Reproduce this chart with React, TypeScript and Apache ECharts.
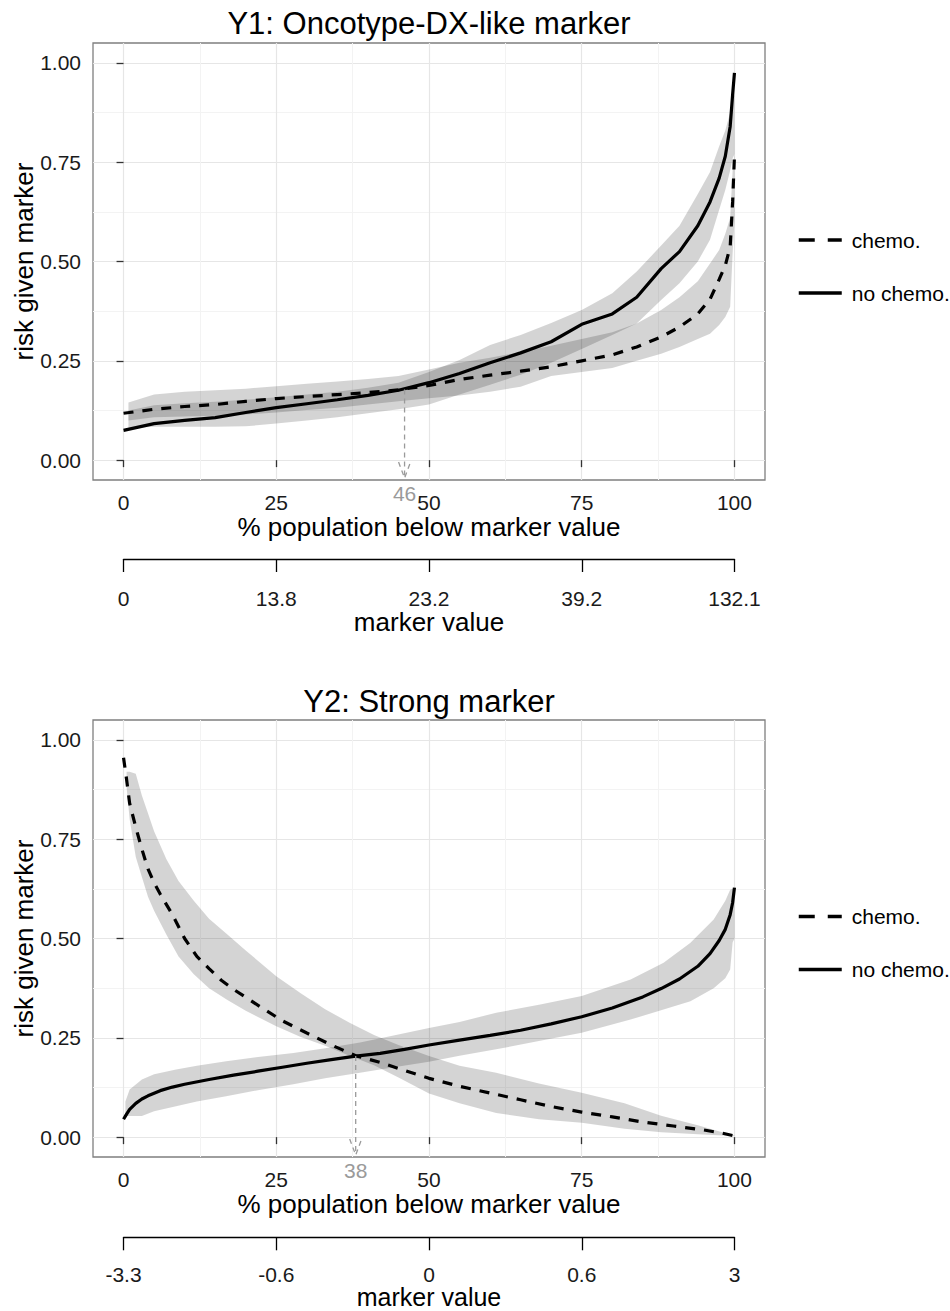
import React, { useEffect, useRef } from "react";
import * as echarts from "echarts";

const FONT = '"Liberation Sans", Arial, Helvetica, sans-serif';
const TXT = "#1a1a1a";
const GRID_MAJOR = "#e6e6e6";
const GRID_MINOR = "#f3f3f3";
const BAND_FILL = "rgba(0,0,0,0.17)";
const ARROW = "#9a9a9a";

// ---------- shared ticks / labels ----------
const pctTicks = [0, 25, 50, 75, 100];
const pctMinor = [12.5, 37.5, 62.5, 87.5];
const riskTicks = [0, 0.25, 0.5, 0.75, 1];
const riskMinor = [0.125, 0.375, 0.625, 0.875];
const seriesNames = ["chemo.", "no chemo."];
const xAxisTitle = "% population below marker value";
const yAxisTitle = "risk given marker";
const markerAxisTitle = "marker value";
const arrowTipY = -0.045;

// ---------- Panel 1: Y1 ----------
const p1Title = "Y1: Oncotype-DX-like marker";
const p1MarkerLabels = ["0", "13.8", "23.2", "39.2", "132.1"];
const p1LineX = [0, 5, 10, 15, 20, 25, 30, 35, 40, 45, 50, 55, 60, 65, 70, 75, 80, 84, 88, 91, 94, 96, 97.5, 98.5, 99.3, 99.7, 100];
const p1NoChemoY = [0.075, 0.092, 0.1, 0.107, 0.12, 0.132, 0.142, 0.152, 0.163, 0.176, 0.195, 0.218, 0.245, 0.27, 0.298, 0.342, 0.368, 0.41, 0.482, 0.525, 0.59, 0.65, 0.71, 0.765, 0.84, 0.92, 0.975];
const p1ChemoY = [0.118, 0.128, 0.135, 0.14, 0.148, 0.155, 0.16, 0.165, 0.17, 0.177, 0.188, 0.203, 0.214, 0.224, 0.235, 0.25, 0.265, 0.285, 0.31, 0.335, 0.368, 0.405, 0.455, 0.49, 0.537, 0.65, 0.765];
const p1BandX = [0.8, 5, 10, 15, 20, 25, 30, 35, 40, 45, 50, 55, 60, 65, 70, 75, 80, 84, 88, 91, 94, 96, 97.5, 98.5, 99.3, 99.7, 100];
const p1NoChemoLo = [0.08, 0.084, 0.084, 0.084, 0.085, 0.092, 0.1, 0.108, 0.118, 0.128, 0.14, 0.165, 0.19, 0.215, 0.245, 0.28, 0.315, 0.344, 0.403, 0.445, 0.5, 0.555, 0.63, 0.68, 0.73, 0.76, 0.77];
const p1NoChemoHi = [0.125, 0.138, 0.143, 0.147, 0.152, 0.158, 0.165, 0.172, 0.182, 0.195, 0.222, 0.252, 0.29, 0.315, 0.345, 0.378, 0.42, 0.475, 0.54, 0.59, 0.67, 0.725, 0.79, 0.83, 0.875, 0.9, 0.92];
const p1ChemoLo = [0.1, 0.108, 0.11, 0.112, 0.115, 0.12, 0.126, 0.132, 0.14, 0.148, 0.156, 0.163, 0.172, 0.185, 0.212, 0.222, 0.232, 0.25, 0.268, 0.285, 0.305, 0.318, 0.34, 0.36, 0.386, 0.52, 0.6];
const p1ChemoHi = [0.145, 0.165, 0.172, 0.176, 0.18, 0.186, 0.192, 0.198, 0.204, 0.212, 0.228, 0.245, 0.258, 0.272, 0.288, 0.305, 0.322, 0.344, 0.378, 0.41, 0.45, 0.495, 0.529, 0.57, 0.61, 0.73, 0.77];
const p1CrossX = 46;
const p1CrossY = 0.178;

// ---------- Panel 2: Y2 ----------
const p2Title = "Y2: Strong marker";
const p2MarkerLabels = ["-3.3", "-0.6", "0", "0.6", "3"];
const p2ChemoX = [0, 0.5, 1, 2, 3, 4, 5, 6, 8, 10, 12, 14, 16, 18, 20, 23, 26, 30, 34, 38, 42, 46, 50, 55, 60, 65, 70, 75, 80, 85, 90, 95, 98, 100];
const p2ChemoY = [0.955, 0.9, 0.84, 0.78, 0.725, 0.675, 0.64, 0.612, 0.56, 0.5, 0.455, 0.424, 0.395, 0.372, 0.352, 0.322, 0.293, 0.262, 0.232, 0.205, 0.188, 0.168, 0.148, 0.128, 0.111, 0.094, 0.077, 0.063, 0.051, 0.038, 0.028, 0.018, 0.01, 0.003];
const p2NoChemoX = [0, 0.5, 1, 2, 3, 4, 6, 8, 10, 14, 18, 22, 26, 30, 34, 38, 42, 46, 50, 55, 60, 65, 70, 75, 80, 85, 88, 91, 94, 96, 97.5, 98.5, 99.3, 99.7, 100];
const p2NoChemoY = [0.045, 0.058, 0.07, 0.085, 0.096, 0.104, 0.117, 0.126, 0.133, 0.145, 0.156, 0.166, 0.176, 0.186, 0.195, 0.204, 0.211, 0.221, 0.232, 0.244, 0.256, 0.269, 0.285, 0.303, 0.325, 0.353, 0.374, 0.398, 0.43, 0.462, 0.495, 0.523, 0.56, 0.59, 0.628];
const p2ChemoBandX = [0.5, 1, 2, 3, 4, 5, 7, 9, 11.5, 14, 17, 20, 25, 29, 33, 37, 41, 45, 50, 55, 61, 68, 75, 82, 88, 94, 98, 100];
const p2ChemoLo = [0.88, 0.8, 0.705, 0.655, 0.605, 0.57, 0.51, 0.455, 0.41, 0.375, 0.345, 0.318, 0.279, 0.252, 0.23, 0.205, 0.181, 0.15, 0.11, 0.085, 0.061, 0.045, 0.036, 0.021, 0.012, 0.007, 0.004, 0.003];
const p2ChemoHi = [0.92, 0.92, 0.915, 0.86, 0.815, 0.77, 0.7, 0.645, 0.595, 0.55, 0.51, 0.47, 0.405, 0.362, 0.322, 0.288, 0.257, 0.232, 0.204, 0.18, 0.162, 0.135, 0.112, 0.085, 0.054, 0.03, 0.012, 0.004];
const p2NoChemoBandX = [0.3, 1, 3, 5, 8.6, 12, 16.8, 22, 27.8, 33, 38.7, 44, 50, 55, 61, 68, 75, 83, 88.4, 92.8, 96.6, 98.5, 99.3, 99.7, 100];
const p2NoChemoLo = [0.053, 0.053, 0.053, 0.065, 0.078, 0.09, 0.103, 0.118, 0.133, 0.148, 0.162, 0.175, 0.19, 0.205, 0.221, 0.242, 0.263, 0.296, 0.321, 0.342, 0.375, 0.4, 0.422, 0.49, 0.5];
const p2NoChemoHi = [0.09, 0.12, 0.145, 0.158, 0.17, 0.18, 0.191, 0.202, 0.212, 0.224, 0.238, 0.255, 0.275, 0.29, 0.313, 0.333, 0.355, 0.397, 0.439, 0.489, 0.548, 0.595, 0.623, 0.625, 0.625];
const p2CrossX = 38;
const p2CrossY = 0.204;

// ---------- helpers ----------
const zip = (xs: number[], ys: number[]) => xs.map((x, i) => [x, ys[i]]);

function bandSeries(xs: number[], lo: number[], hi: number[], xi: number, yi: number) {
  return {
    type: "custom",
    xAxisIndex: xi,
    yAxisIndex: yi,
    z: 1,
    silent: true,
    clip: true,
    data: xs.map((x, i) => [x, lo[i], hi[i]]),
    encode: { x: 0, y: [1, 2] },
    renderItem: (params: any, api: any) => {
      if (params.dataIndex !== 0) return null;
      const pts: number[][] = [];
      for (let i = 0; i < xs.length; i++) pts.push(api.coord([xs[i], hi[i]]));
      for (let i = xs.length - 1; i >= 0; i--) pts.push(api.coord([xs[i], lo[i]]));
      return { type: "polygon", shape: { points: pts }, style: { fill: BAND_FILL } };
    },
  };
}

function lineSeries(name: string, xs: number[], ys: number[], xi: number, yi: number, dashed: boolean) {
  return {
    type: "line",
    name,
    xAxisIndex: xi,
    yAxisIndex: yi,
    data: zip(xs, ys),
    symbol: "none",
    showSymbol: false,
    silent: true,
    clip: true,
    z: 3,
    itemStyle: { color: "#000" },
    lineStyle: { color: "#000", width: 3.2, type: dashed ? [10, 9] : "solid" },
  };
}

function arrowSeries(cx: number, cy: number, xi: number, yi: number) {
  return {
    type: "custom",
    xAxisIndex: xi,
    yAxisIndex: yi,
    z: 4,
    silent: true,
    clip: false,
    data: [[cx, cy, arrowTipY]],
    renderItem: (params: any, api: any) => {
      const x = api.value(0);
      const top = api.coord([x, api.value(1)]);
      const tip = api.coord([x, api.value(2)]);
      const st = { stroke: ARROW, lineWidth: 1.3, lineDash: [5, 4], fill: null };
      return {
        type: "group",
        children: [
          { type: "line", shape: { x1: top[0], y1: top[1], x2: tip[0], y2: tip[1] }, style: st },
          {
            type: "polyline",
            shape: { points: [[tip[0] - 6, tip[1] - 16], [tip[0], tip[1]], [tip[0] + 6, tip[1] - 16]] },
            style: st,
          },
          {
            type: "text",
            x: tip[0],
            y: tip[1] + 15,
            style: { text: String(x), fill: ARROW, fontSize: 21, fontFamily: FONT, align: "center", verticalAlign: "middle" },
          },
        ],
      };
    },
  };
}

const nameStyle = { fontSize: 26, color: "#000", fontFamily: FONT };
const labelStyle = { fontSize: 21, color: TXT, fontFamily: FONT };

function mainXAxis(g: number) {
  return {
    type: "value", gridIndex: g, min: -5, max: 105,
    axisLine: { show: false },
    axisTick: { show: true, customValues: pctTicks, length: 7, lineStyle: { color: "#333", width: 1.3 } },
    axisLabel: { show: true, customValues: pctTicks, margin: 12, ...labelStyle },
    splitLine: { show: true, lineStyle: { color: GRID_MAJOR, width: 1.2 } },
    name: xAxisTitle, nameLocation: "middle", nameGap: 34, nameTextStyle: nameStyle, nameMoveOverlap: false,
  };
}
function minorXAxis(g: number) {
  return {
    type: "value", gridIndex: g, min: -5, max: 105,
    axisLine: { show: false },
    axisTick: { show: false, customValues: pctMinor },
    axisLabel: { show: false, customValues: pctMinor },
    splitLine: { show: true, lineStyle: { color: GRID_MINOR, width: 1 } },
  };
}
function markerXAxis(g: number, labels: string[], labelMargin: number, nameGap: number, nameSize: number) {
  return {
    type: "value", gridIndex: g, min: 0, max: 100, interval: 25,
    axisLine: { show: true, onZero: false, lineStyle: { color: "#000", width: 1.3 } },
    axisTick: { show: true, length: 13, lineStyle: { color: "#000", width: 1.3 } },
    axisLabel: { show: true, margin: labelMargin, ...labelStyle, lineHeight: 16, showMinLabel: true, showMaxLabel: true, formatter: (v: number) => labels[Math.round(v / 25)] },
    splitLine: { show: false },
    name: markerAxisTitle, nameLocation: "middle", nameGap, nameTextStyle: { ...nameStyle, fontSize: nameSize, lineHeight: 20 }, nameMoveOverlap: false,
  };
}
function mainYAxis(g: number) {
  return {
    type: "value", gridIndex: g, min: -0.05, max: 1.05,
    axisLine: { show: false },
    axisTick: { show: true, customValues: riskTicks, length: 7, lineStyle: { color: "#333", width: 1.3 } },
    axisLabel: { show: true, customValues: riskTicks, margin: 12, ...labelStyle, formatter: (v: number) => v.toFixed(2) },
    splitLine: { show: true, lineStyle: { color: GRID_MAJOR, width: 1.2 } },
    name: yAxisTitle, nameLocation: "middle", nameGap: 56, nameTextStyle: nameStyle, nameMoveOverlap: false,
  };
}
function minorYAxis(g: number) {
  return {
    type: "value", gridIndex: g, min: -0.05, max: 1.05,
    axisLine: { show: false },
    axisTick: { show: false, customValues: riskMinor },
    axisLabel: { show: false, customValues: riskMinor },
    splitLine: { show: true, lineStyle: { color: GRID_MINOR, width: 1 } },
  };
}
function hiddenYAxis(g: number) {
  return { type: "value", gridIndex: g, min: 0, max: 1, show: false };
}

function legendFor(top: number) {
  return {
    orient: "vertical", left: 797, top, padding: 0,
    itemWidth: 43, itemHeight: 14, itemGap: 32,
    selectedMode: false,
    itemStyle: { opacity: 0 },
    textStyle: { fontSize: 21, color: "#000", fontFamily: FONT, padding: [0, 0, 0, 5] },
    data: [
      { name: seriesNames[0], lineStyle: { type: [16, 13], width: 3.5 } },
      { name: seriesNames[1], lineStyle: { width: 3.5 } },
    ],
  };
}

function buildOption() {
  const gridBase = { left: 93, width: 672, height: 437, show: true, borderColor: "#7f7f7f", borderWidth: 1.3, backgroundColor: "#fff", containLabel: false, outerBoundsMode: "none" };
  return {
    animation: false,
    backgroundColor: "#fff",
    textStyle: { fontFamily: FONT },
    title: [
      { text: p1Title, left: 429, top: 23.5, textAlign: "center", textVerticalAlign: "middle", padding: 0, textStyle: { fontSize: 31, fontWeight: "normal", color: "#000", fontFamily: FONT } },
      { text: p2Title, left: 429, top: 701.5, textAlign: "center", textVerticalAlign: "middle", padding: 0, textStyle: { fontSize: 31, fontWeight: "normal", color: "#000", fontFamily: FONT } },
    ],
    legend: [legendFor(229.5), legendFor(906)],
    grid: [
      { ...gridBase, top: 43 },
      { left: 123.5, width: 611, top: 558, height: 1, show: false, containLabel: false, outerBoundsMode: "none" },
      { ...gridBase, top: 720 },
      { left: 123.5, width: 611, top: 1236.3, height: 1, show: false, containLabel: false, outerBoundsMode: "none" },
    ],
    xAxis: [
      mainXAxis(0), minorXAxis(0), markerXAxis(1, p1MarkerLabels, 31, 53, 26),
      mainXAxis(2), minorXAxis(2), markerXAxis(3, p2MarkerLabels, 29, 50, 25),
    ],
    yAxis: [
      mainYAxis(0), minorYAxis(0), hiddenYAxis(1),
      mainYAxis(2), minorYAxis(2), hiddenYAxis(3),
    ],
    series: [
      bandSeries(p1BandX, p1ChemoLo, p1ChemoHi, 0, 0),
      bandSeries(p1BandX, p1NoChemoLo, p1NoChemoHi, 0, 0),
      lineSeries(seriesNames[0], p1LineX, p1ChemoY, 0, 0, true),
      lineSeries(seriesNames[1], p1LineX, p1NoChemoY, 0, 0, false),
      arrowSeries(p1CrossX, p1CrossY, 0, 0),
      bandSeries(p2ChemoBandX, p2ChemoLo, p2ChemoHi, 3, 3),
      bandSeries(p2NoChemoBandX, p2NoChemoLo, p2NoChemoHi, 3, 3),
      lineSeries(seriesNames[0], p2ChemoX, p2ChemoY, 3, 3, true),
      lineSeries(seriesNames[1], p2NoChemoX, p2NoChemoY, 3, 3, false),
      arrowSeries(p2CrossX, p2CrossY, 3, 3),
    ],
  };
}

export default function App() {
  const ref = useRef<HTMLDivElement>(null);
  useEffect(() => {
    if (!ref.current) return;
    const chart = echarts.init(ref.current, undefined, { renderer: "svg" });
    chart.setOption(buildOption() as any);
    return () => chart.dispose();
  }, []);
  return <div ref={ref} style={{ position: "absolute", left: 0, top: 0, width: 950, height: 1311 }} />;
}
